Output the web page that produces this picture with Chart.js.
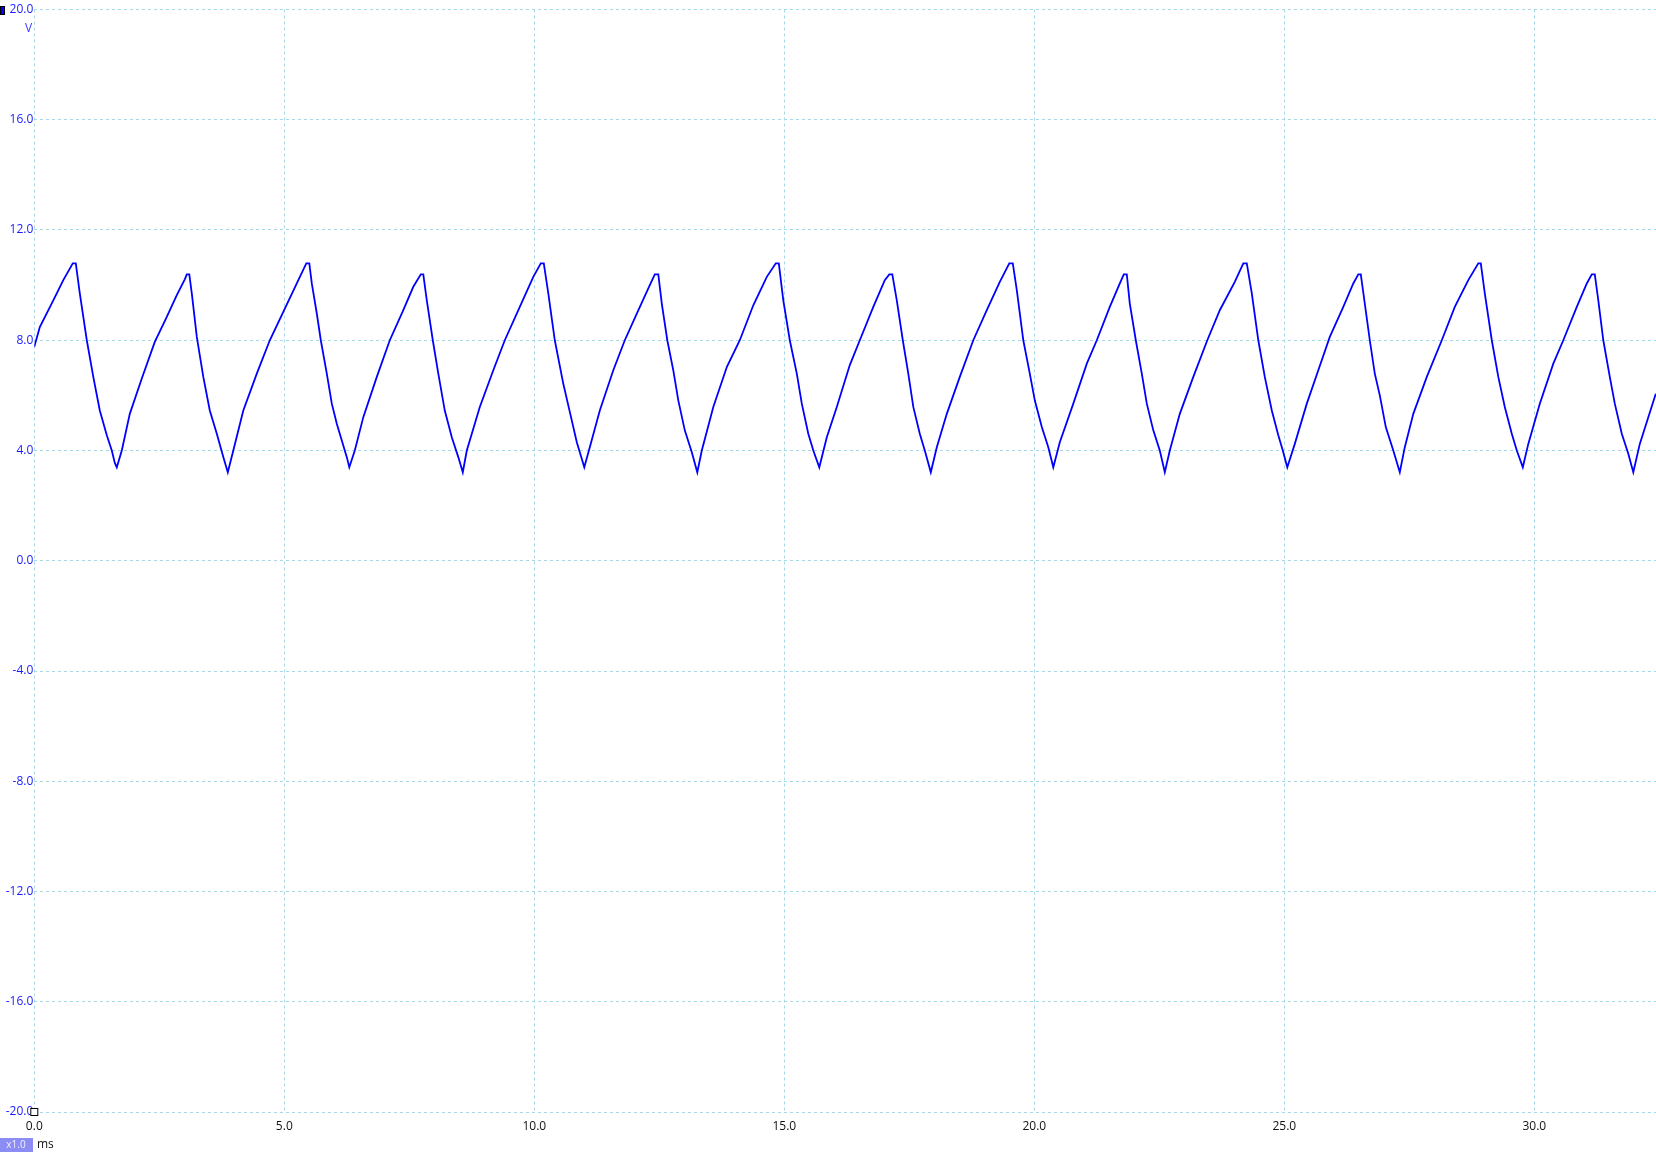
<!DOCTYPE html>
<html>
<head>
<meta charset="utf-8">
<script src="https://cdn.jsdelivr.net/npm/chart.js@4/dist/chart.umd.min.js"></script>
<style>
  html, body { margin: 0; padding: 0; background: #ffffff; }
  #wrap { position: relative; width: 1656px; height: 1152px; }
  canvas { display: block; }
</style>
</head>
<body>
<div id="wrap"><canvas id="c" width="1656" height="1152"></canvas></div>
<script>
// ---- Data (time in ms, voltage in V) ----
const timeMs = [
  0.00, 0.11, 0.38, 0.58, 0.77, 0.83, 0.91, 1.05, 1.18, 1.31, 1.45, 1.55, 1.61, 1.65,
  1.75, 1.91, 2.15, 2.41, 2.65, 2.85, 3.01, 3.05, 3.10, 3.15, 3.25, 3.38, 3.51, 3.65, 3.78, 3.87,
  3.98, 4.18, 4.45, 4.71, 4.98, 5.25, 5.44, 5.50, 5.55, 5.65, 5.73, 5.85, 5.95, 6.05, 6.15, 6.25, 6.30,
  6.41, 6.58, 6.85, 7.11, 7.38, 7.58, 7.73, 7.78, 7.85, 7.97, 8.08, 8.21, 8.35, 8.48, 8.57,
  8.65, 8.91, 9.18, 9.41, 9.71, 9.98, 10.13, 10.19, 10.28, 10.41, 10.58, 10.71, 10.85, 11.00,
  11.11, 11.31, 11.58, 11.81, 12.05, 12.31, 12.41, 12.48, 12.55, 12.66, 12.78, 12.88, 13.01, 13.15, 13.26,
  13.35, 13.58, 13.85, 14.11, 14.38, 14.65, 14.83, 14.89, 14.98, 15.11, 15.25, 15.35, 15.48, 15.58, 15.70,
  15.85, 16.05, 16.31, 16.51, 16.78, 17.01, 17.10, 17.16, 17.25, 17.37, 17.48, 17.58, 17.71, 17.81, 17.93,
  18.05, 18.25, 18.51, 18.78, 19.05, 19.31, 19.50, 19.57, 19.65, 19.78, 19.91, 20.01, 20.15, 20.28, 20.38,
  20.51, 20.78, 21.05, 21.25, 21.51, 21.70, 21.79, 21.85, 21.91, 22.03, 22.15, 22.25, 22.38, 22.51, 22.61,
  22.71, 22.91, 23.18, 23.46, 23.71, 24.01, 24.18, 24.25, 24.35, 24.48, 24.61, 24.75, 24.88, 24.97, 25.06,
  25.21, 25.45, 25.68, 25.91, 26.18, 26.38, 26.48, 26.53, 26.61, 26.71, 26.81, 26.91, 27.03, 27.18, 27.31,
  27.41, 27.58, 27.85, 28.15, 28.41, 28.68, 28.88, 28.93, 29.01, 29.15, 29.28, 29.41, 29.55, 29.65, 29.77,
  29.88, 30.11, 30.38, 30.58, 30.85, 31.05, 31.15, 31.21, 31.28, 31.38, 31.51, 31.61, 31.75, 31.88, 31.98,
  32.11, 32.28, 32.43
];
const voltsV = [
  7.76, 8.48, 9.45, 10.18, 10.79, 10.79, 9.70, 8.00, 6.67, 5.45, 4.55, 4.00, 3.55, 3.39,
  4.00, 5.33, 6.61, 7.94, 8.85, 9.64, 10.21, 10.39, 10.39, 9.70, 8.12, 6.67, 5.45, 4.61, 3.76, 3.21,
  4.00, 5.45, 6.79, 8.00, 9.03, 10.06, 10.79, 10.79, 10.06, 8.97, 8.00, 6.79, 5.70, 4.97, 4.36, 3.76, 3.39,
  4.00, 5.21, 6.67, 8.00, 9.09, 9.94, 10.39, 10.39, 9.45, 8.00, 6.79, 5.45, 4.48, 3.76, 3.21,
  4.00, 5.58, 6.91, 8.00, 9.21, 10.30, 10.79, 10.79, 9.70, 8.00, 6.42, 5.40, 4.30, 3.39,
  4.12, 5.45, 6.91, 8.00, 8.97, 10.00, 10.39, 10.39, 9.33, 8.00, 6.91, 5.82, 4.73, 3.94, 3.21,
  4.00, 5.58, 7.03, 8.00, 9.27, 10.30, 10.79, 10.79, 9.45, 8.00, 6.79, 5.70, 4.61, 4.00, 3.39,
  4.48, 5.58, 7.10, 8.00, 9.21, 10.18, 10.39, 10.39, 9.45, 8.00, 6.79, 5.58, 4.61, 4.00, 3.21,
  4.12, 5.33, 6.67, 8.00, 9.09, 10.12, 10.79, 10.79, 9.82, 8.00, 6.79, 5.82, 4.85, 4.12, 3.39,
  4.30, 5.70, 7.15, 8.00, 9.21, 10.02, 10.39, 10.39, 9.33, 8.00, 6.79, 5.70, 4.73, 4.00, 3.21,
  4.00, 5.33, 6.67, 8.00, 9.09, 10.12, 10.79, 10.79, 9.70, 8.00, 6.67, 5.45, 4.55, 4.00, 3.39,
  4.24, 5.70, 6.91, 8.12, 9.21, 10.06, 10.39, 10.39, 9.33, 8.00, 6.79, 6.00, 4.85, 4.00, 3.21,
  4.12, 5.33, 6.67, 8.00, 9.21, 10.18, 10.79, 10.79, 9.70, 8.00, 6.67, 5.58, 4.61, 4.00, 3.39,
  4.24, 5.70, 7.15, 8.00, 9.21, 10.06, 10.39, 10.39, 9.45, 8.00, 6.67, 5.70, 4.61, 3.88, 3.21,
  4.24, 5.21, 6.06
];
const xTicks = [0, 5, 10, 15, 20, 25, 30];
const yTicks = [-20, -16, -12, -8, -4, 0, 4, 8, 12, 16, 20];
const xRange = [0, 32.434];
const yRange = [-20, 20];
const yUnit = 'V';
const xUnit = 'ms';
const scaleTag = 'x1.0';

// ---- Chart ----
const points = timeMs.map((t, i) => ({ x: t, y: voltsV[i] }));
const FONT = '"Open Sans", "Noto Sans", "DejaVu Sans", sans-serif';
const GRID = '#a6d8e6';

const extras = {
  id: 'extras',
  afterDraw(chart) {
    const ctx = chart.ctx;
    const a = chart.chartArea;
    ctx.save();
    // channel marker (top-left)
    ctx.fillStyle = '#000000';
    ctx.fillRect(0, 6, 5, 9);
    ctx.fillStyle = '#0000ff';
    ctx.fillRect(1, 7, 3, 7);
    // unit of y axis
    ctx.font = '12px ' + FONT;
    ctx.fillStyle = '#3a3aff';
    ctx.textAlign = 'center';
    ctx.textBaseline = 'middle';
    ctx.fillText(yUnit, 28.5, 28.5);
    // scale tag box
    ctx.fillStyle = '#8c8cf5';
    ctx.fillRect(0, 1138, 33, 14);
    ctx.fillStyle = '#eeeeff';
    ctx.font = '10px ' + FONT;
    ctx.fillText(scaleTag, 16, 1145);
    // x unit
    ctx.fillStyle = '#111111';
    ctx.font = '12px ' + FONT;
    ctx.textAlign = 'left';
    ctx.fillText(xUnit, 37, 1145);
    // origin marker square
    ctx.fillStyle = '#ffffff';
    ctx.fillRect(a.left - 4, a.bottom - 4, 8, 8);
    ctx.strokeStyle = '#000000';
    ctx.lineWidth = 1;
    ctx.strokeRect(a.left - 3.5, a.bottom - 3.5, 7, 7);
    ctx.restore();
  }
};

new Chart(document.getElementById('c'), {
  type: 'line',
  data: {
    datasets: [{
      data: points,
      borderColor: '#0000ff',
      borderWidth: 1.8,
      pointRadius: 0,
      tension: 0,
      fill: false
    }]
  },
  options: {
    responsive: false,
    animation: false,
    devicePixelRatio: 1,
    parsing: false,
    layout: { padding: { top: 9.5, right: 0, left: 0, bottom: 0 } },
    plugins: { legend: { display: false }, tooltip: { enabled: false } },
    scales: {
      x: {
        type: 'linear',
        position: 'bottom',
        min: xRange[0],
        max: xRange[1],
        afterBuildTicks: s => { s.ticks = xTicks.map(v => ({ value: v })); },
        afterFit: s => { s.height = 40; },
        ticks: {
          callback: v => Number(v).toFixed(1),
          color: '#111111',
          font: { family: FONT, size: 12 },
          padding: 7,
          maxRotation: 0,
          autoSkip: false
        },
        grid: { color: GRID, lineWidth: 1, drawTicks: false },
        border: { display: false, dash: [3, 3] }
      },
      y: {
        type: 'linear',
        min: yRange[0],
        max: yRange[1],
        afterBuildTicks: s => { s.ticks = yTicks.map(v => ({ value: v })); },
        afterFit: s => { s.width = 34.3; },
        ticks: {
          callback: v => Number(v).toFixed(1),
          color: '#1a1aff',
          font: { family: FONT, size: 12 },
          padding: 1,
          autoSkip: false
        },
        grid: { color: GRID, lineWidth: 1, drawTicks: false },
        border: { display: false, dash: [3, 3] }
      }
    }
  },
  plugins: [extras]
});
</script>
</body>
</html>
